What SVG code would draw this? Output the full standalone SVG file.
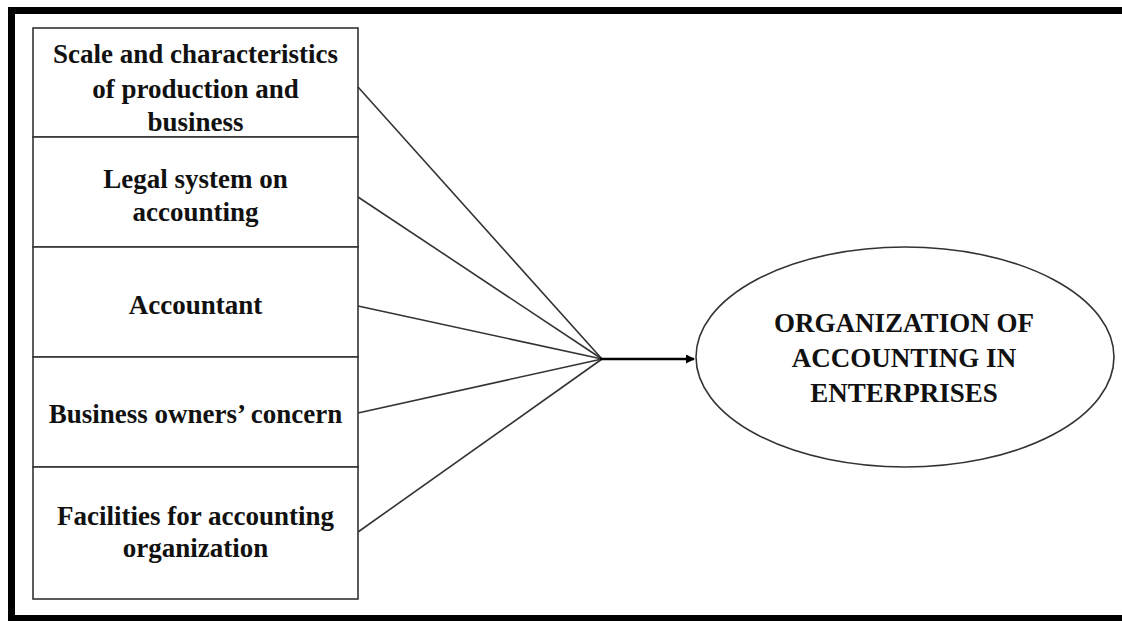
<svg xmlns="http://www.w3.org/2000/svg" width="1122" height="621" viewBox="0 0 1122 621">
<style>
.box{fill:#fff;stroke:#333;stroke-width:1.6}
.t{font-family:"Liberation Serif","Times New Roman",serif;font-weight:bold;font-size:27px;fill:#111;text-anchor:middle}
.c{stroke:#333;stroke-width:1.6;fill:none}
</style>
<defs>
<marker id="ah" markerWidth="9" markerHeight="9" refX="8" refY="4.5" orient="auto" markerUnits="userSpaceOnUse">
<path d="M0,0 L9,4.5 L0,9 Z" fill="#000"/>
</marker>
</defs>
<rect x="0" y="0" width="1122" height="621" fill="#fff"/>
<rect x="11.5" y="10.5" width="1120" height="608" fill="none" stroke="#000" stroke-width="7"/>
<g id="n1"><rect class="box" x="33" y="28" width="325" height="109"/>
<text class="t" x="195.5" y="63">Scale and characteristics</text>
<text class="t" x="195.5" y="98">of production and</text>
<text class="t" x="195.5" y="131">business</text></g>
<g id="n2"><rect class="box" x="33" y="137" width="325" height="110"/>
<text class="t" x="195.5" y="188">Legal system on</text>
<text class="t" x="195.5" y="221">accounting</text></g>
<g id="n3"><rect class="box" x="33" y="247" width="325" height="110"/>
<text class="t" x="195.5" y="314">Accountant</text></g>
<g id="n4"><rect class="box" x="33" y="357" width="325" height="110"/>
<text class="t" x="195.5" y="423">Business owners’ concern</text></g>
<g id="n5"><rect class="box" x="33" y="467" width="325" height="132"/>
<text class="t" x="195.5" y="525">Facilities for accounting</text>
<text class="t" x="195.5" y="557">organization</text></g>
<g id="n6"><ellipse cx="905" cy="357" rx="209" ry="110" fill="#fff" stroke="#333" stroke-width="1.6"/>
<text class="t" x="904" y="332">ORGANIZATION OF</text>
<text class="t" x="904" y="367">ACCOUNTING IN</text>
<text class="t" x="904" y="402">ENTERPRISES</text></g>
<g id="connectors">
<line class="c" x1="358" y1="87" x2="602" y2="359"/>
<line class="c" x1="358" y1="197" x2="602" y2="359"/>
<line class="c" x1="358" y1="306" x2="602" y2="359"/>
<line class="c" x1="358" y1="413" x2="602" y2="359"/>
<line class="c" x1="358" y1="532" x2="602" y2="359"/>
<line x1="600" y1="359" x2="694" y2="359" stroke="#000" stroke-width="2.6" marker-end="url(#ah)"/>
</g>
</svg>
